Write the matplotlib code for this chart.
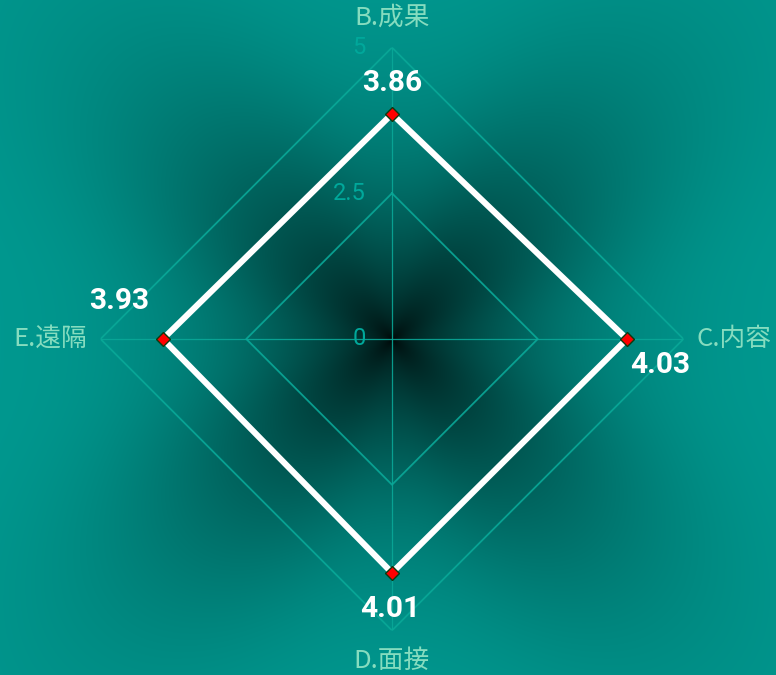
import numpy as np
import matplotlib
matplotlib.use("Agg")
import matplotlib.pyplot as plt

# ---- data ----
categories = ["B.成果", "C.内容", "D.面接", "E.遠隔"]
values = [3.86, 4.03, 4.01, 3.93]
value_labels = ["3.86", "4.03", "4.01", "3.93"]
ring_levels = [2.5, 5]
tick_labels = ["0", "2.5", "5"]
tick_values = [0, 2.5, 5]
r_max = 5

W, H, DPI = 776, 675, 100
cx, cy = 392, 339          # chart centre in pixels (from top)
R = 291.5                  # pixel radius of r_max

fig = plt.figure(figsize=(W / DPI, H / DPI), dpi=DPI)

# ---- background: teal with dark radial shadow ----
bg = fig.add_axes([0, 0, 1, 1])
yy, xx = np.mgrid[0:H, 0:W]
dx = xx - cx
dy = yy - cy
rr = np.hypot(dx, dy)
th = np.arctan2(dy, dx)
s = np.abs(np.sin(2 * th)) ** 2.5
k = 1 + 0.6 * s
x = rr / k
D = np.exp(-(0.0607 * np.sqrt(x) + 2.05e-5 * x ** 2))
teal = np.array([0, 154, 145]) / 255.0
img = teal[None, None, :] * (1 - D)[..., None]
bg.imshow(img, extent=[0, W, H, 0], aspect="auto", interpolation="bilinear")
bg.set_xlim(0, W)
bg.set_ylim(H, 0)
bg.axis("off")

# ---- radar (polar axes) ----
ax = fig.add_axes([(cx - R) / W, (H - cy - R) / H, 2 * R / W, 2 * R / H],
                  projection="polar")
ax.patch.set_alpha(0)
ax.set_theta_zero_location("N")
ax.set_theta_direction(-1)
ax.set_ylim(0, r_max)
ax.axis("off")

n = len(categories)
angles = np.arange(n) * 2 * np.pi / n
ang_closed = np.append(angles, angles[0])

grid_col = "#0aa898"
for lv in ring_levels:
    ax.plot(ang_closed, [lv] * (n + 1), color=grid_col, lw=1.3, alpha=0.9, zorder=2)
for a in angles:
    ax.plot([a, a], [0, r_max], color=grid_col, lw=0.9, alpha=0.9, zorder=2)

# tick labels along B axis
for tv, tl in zip(tick_values, tick_labels):
    ax.annotate(tl, (angles[0], tv), xytext=(-26, 0), textcoords="offset pixels",
                ha="right", va="center", color="#00a89b", fontsize=17,
                family=["Roboto", "DejaVu Sans"], zorder=3)

# data polygon
vals_closed = values + values[:1]
ax.plot(ang_closed, vals_closed, color="white", lw=4.4, zorder=4,
        solid_joinstyle="miter")
ax.plot(angles, values, ls="none", marker="D", ms=7, mfc="#ff0000",
        mec="#0b3a10", mew=1, zorder=5)

# value labels
val_off = [(0, 31), (33, -26), (-2, -36), (-44, 38)]
for a, v, lab, off in zip(angles, values, value_labels, val_off):
    ax.annotate(lab, (a, v), xytext=off, textcoords="offset pixels",
                ha="center", va="center", color="white", fontsize=21.5,
                fontweight="bold", family=["Roboto", "DejaVu Sans"], zorder=6)

# category labels
cat_off = [((0, 30), "center"), ((13, 0), "left"), ((0, -30), "center"), ((-13, 0), "right")]
for a, name, (off, ha) in zip(angles, categories, cat_off):
    ax.annotate(name, (a, r_max), xytext=off, textcoords="offset pixels",
                ha=ha, va="center", color="#86dcbf", fontsize=18.5,
                family=["Noto Sans CJK JP", "DejaVu Sans"], zorder=6,
                annotation_clip=False)

fig.savefig("out.png", dpi=DPI)
